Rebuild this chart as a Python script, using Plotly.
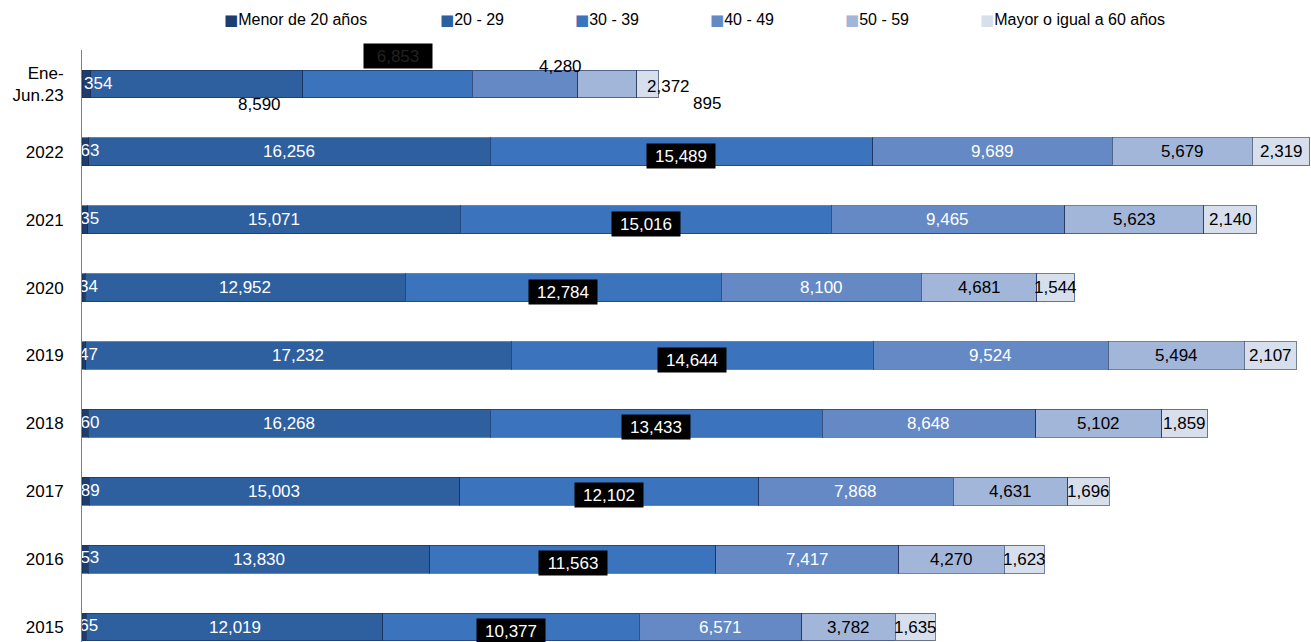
import plotly.graph_objects as go

categories = ["2015", "2016", "2017", "2018", "2019", "2020", "2021", "2022", "Ene-Jun.23"]
tick_labels = ["2015", "2016", "2017", "2018", "2019", "2020", "2021", "2022", "Ene-<br>Jun.23"]
series_names = ["Menor de 20 años", "20 - 29", "30 - 39", "40 - 49", "50 - 59", "Mayor o igual a 60 años"]

menor20 = [165, 253, 289, 260, 147, 134, 235, 263, 354]
g20_29 = [12019, 13830, 15003, 16268, 17232, 12952, 15071, 16256, 8590]
g30_39 = [10377, 11563, 12102, 13433, 14644, 12784, 15016, 15489, 6853]
g40_49 = [6571, 7417, 7868, 8648, 9524, 8100, 9465, 9689, 4280]
g50_59 = [3782, 4270, 4631, 5102, 5494, 4681, 5623, 5679, 2372]
g60 = [1635, 1623, 1696, 1859, 2107, 1544, 2140, 2319, 895]

series = [menor20, g20_29, g30_39, g40_49, g50_59, g60]
colors = ["#1E3D6F", "#2E5F9F", "#3B73BD", "#6489C4", "#A2B6D9", "#D7DFEC"]
text_colors = ["white", "white", "white", "white", "black", "black"]
FONT = "Liberation Sans, Arial, sans-serif"

fig = go.Figure()
for name, vals, col in zip(series_names, series, colors):
    fig.add_trace(go.Bar(
        y=categories, x=vals, name=name, orientation="h",
        marker=dict(color=col, line=dict(color="rgba(25,45,85,0.6)", width=1)),
        hoverinfo="x+name", showlegend=False,
    ))

# first-segment labels (clipped by the axis, as in the original)
fig.add_trace(go.Scatter(
    y=categories[:-1], x=[v / 2 for v in menor20[:-1]], mode="text",
    text=[f"{v:,}" for v in menor20[:-1]], textposition="middle center",
    textfont=dict(color="white", size=17, family=FONT),
    cliponaxis=True, showlegend=False, hoverinfo="skip",
))

annotations = []
last = len(categories) - 1
# special offsets for the partial-year row (series index -> (xshift, yshift, color))
special = {1: (63, -21, "black"), 2: (10, 28, "#222222"), 3: (35, 17, "black"),
           4: (61, -3, "black"), 5: (59, -20, "black")}
for i, cat in enumerate(categories):
    cum = 0
    for s, vals in enumerate(series):
        v = vals[i]
        center = cum + v / 2
        cum += v
        if s == 0:
            if i == last:
                annotations.append(dict(x=0, y=i, text=f"{v:,}", xanchor="left", showarrow=False,
                                        font=dict(color="white", size=17, family=FONT)))
            continue
        xs, ys, fc = 0, 0, text_colors[s]
        if i == last:
            xs, ys, fc = special[s]
        ann = dict(x=center, y=i, text=f"{v:,}", showarrow=False, xshift=xs, yshift=ys,
                   font=dict(color=fc, size=17, family=FONT))
        if s == 2:
            ann.update(bgcolor="black", width=66, height=22)
            if i != last:
                ann["yshift"] = -4
                ann["font"] = dict(color="white", size=17, family=FONT)
        annotations.append(ann)

# legend drawn as text: coloured square + label
legend_px = [222, 438, 573, 708, 843, 978]
for name, col, px in zip(series_names, colors, legend_px):
    annotations.append(dict(
        x=(px - 82) / 1229, y=1.0, xref="paper", yref="paper", xanchor="left", yanchor="middle",
        yshift=30, showarrow=False,
        text=f"<span style='color:{col};font-family:DejaVu Sans;font-size:15px'>■</span>{name}",
        font=dict(size=16, family=FONT, color="black"),
    ))

fig.update_layout(
    width=1311, height=642,
    margin=dict(l=82, r=0, t=50, b=0),
    barmode="stack", bargap=0.59,
    plot_bgcolor="white", paper_bgcolor="white",
    font=dict(family=FONT, size=17, color="black"),
    xaxis=dict(range=[0, 49750], visible=False, fixedrange=True),
    yaxis=dict(type="category", categoryorder="array", categoryarray=categories,
               tickvals=categories, ticktext=tick_labels, automargin=False,
               range=[-0.22, 8.5], showline=True, linecolor="#808080", linewidth=1,
               ticks="", showgrid=False, ticklabelstandoff=14,
               tickfont=dict(size=17, family=FONT, color="black")),
    annotations=annotations,
    showlegend=False,
)

fig.write_html("out.html", config={"displayModeBar": False},
               post_script="document.body.style.margin='0px';")
